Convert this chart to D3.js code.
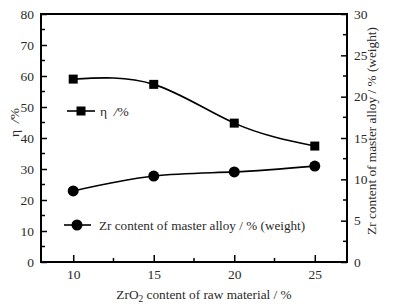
<!DOCTYPE html>
<html>
<head>
<meta charset="utf-8">
<script src="https://cdn.jsdelivr.net/npm/d3@7"></script>
<style>
  body { margin: 0; background: #fff; }
  text { font-family: "Liberation Serif", "DejaVu Serif", serif; fill: #2a2a2a; }
</style>
</head>
<body>
<div class="content"></div>
<script>
var width = 399, height = 306;
var margin = { left: 41, top: 14, right: 52, bottom: 44 };

var zrO2 = [10, 15, 20, 25];
var eta = [59.0, 57.3, 44.8, 37.4];
var zrContent = [8.6, 10.4, 10.9, 11.6];
var xTicks = [10, 15, 20, 25];
var leftTicks = [0, 10, 20, 30, 40, 50, 60, 70, 80];
var rightTicks = [0, 5, 10, 15, 20, 25, 30];

var x = d3.scaleLinear().domain([8, 27]).range([margin.left, width - margin.right]);
var yL = d3.scaleLinear().domain([0, 80]).range([height - margin.bottom, margin.top]);
var yR = d3.scaleLinear().domain([0, 30]).range([height - margin.bottom, margin.top]);

var svg = d3.select(".content").append("svg")
  .attr("width", width)
  .attr("height", height);

// frame
svg.append("rect")
  .attr("x", margin.left).attr("y", margin.top)
  .attr("width", width - margin.left - margin.right)
  .attr("height", height - margin.top - margin.bottom)
  .attr("fill", "none").attr("stroke", "#000").attr("stroke-width", 2);

// axes, ticks point inward
var xAxis = svg.append("g")
  .attr("transform", "translate(0," + (height - margin.bottom) + ")")
  .call(d3.axisBottom(x).tickValues(xTicks).tickSizeInner(-7).tickSizeOuter(0).tickPadding(7));
xAxis.append("g").selectAll("line").data([12.5, 17.5, 22.5]).enter().append("line")
  .attr("x1", x).attr("x2", x).attr("y1", 0).attr("y2", -4).attr("stroke", "#000").attr("stroke-width", 1.5);

var lAxis = svg.append("g")
  .attr("transform", "translate(" + margin.left + ",0)")
  .call(d3.axisLeft(yL).tickValues(leftTicks).tickSizeInner(-6).tickSizeOuter(0).tickPadding(7));
lAxis.append("g").selectAll("line").data([5, 15, 25, 35, 45, 55, 65, 75]).enter().append("line")
  .attr("y1", yL).attr("y2", yL).attr("x1", 0).attr("x2", 4).attr("stroke", "#000").attr("stroke-width", 1.5);

var rAxis = svg.append("g")
  .attr("transform", "translate(" + (width - margin.right) + ",0)")
  .call(d3.axisRight(yR).tickValues(rightTicks).tickSizeInner(-6).tickSizeOuter(0).tickPadding(7));
rAxis.append("g").selectAll("line").data([2.5, 7.5, 12.5, 17.5, 22.5, 27.5]).enter().append("line")
  .attr("y1", yR).attr("y2", yR).attr("x1", 0).attr("x2", -4).attr("stroke", "#000").attr("stroke-width", 1.5);

[xAxis, lAxis, rAxis].forEach(function (a) {
  a.select(".domain").remove();
  a.selectAll(".tick line").attr("stroke", "#000").attr("stroke-width", 1.5);
  a.selectAll(".tick text").style("font-size", "13.5px").attr("fill", "#2a2a2a");
});

// series
var etaLine = d3.line().x(function (d, i) { return x(zrO2[i]); }).y(function (d) { return yL(d); })
  .curve(d3.curveNatural);
var zrLine = d3.line().x(function (d, i) { return x(zrO2[i]); }).y(function (d) { return yR(d); })
  .curve(d3.curveNatural);

svg.append("path").attr("d", etaLine(eta))
  .attr("fill", "none").attr("stroke", "#000").attr("stroke-width", 1.6);
svg.append("path").attr("d", zrLine(zrContent))
  .attr("fill", "none").attr("stroke", "#000").attr("stroke-width", 1.6);

svg.selectAll(".sq").data(eta).enter().append("rect")
  .attr("class", "sq")
  .attr("x", function (d, i) { return x(zrO2[i]) - 4.5; })
  .attr("y", function (d) { return yL(d) - 4.5; })
  .attr("width", 9).attr("height", 9).attr("fill", "#000");

svg.selectAll(".dot").data(zrContent).enter().append("circle")
  .attr("class", "dot")
  .attr("cx", function (d, i) { return x(zrO2[i]); })
  .attr("cy", function (d) { return yR(d); })
  .attr("r", 5.5).attr("fill", "#000");

// legends
var lg1 = svg.append("g").attr("transform", "translate(67,111)");
lg1.append("line").attr("x1", 0).attr("x2", 28).attr("stroke", "#000").attr("stroke-width", 1.6);
lg1.append("rect").attr("x", 9.5).attr("y", -4.5).attr("width", 9).attr("height", 9).attr("fill", "#000");
lg1.append("text").attr("x", 33).attr("dy", "0.35em").style("font-size", "13.5px")
  .html('η&#160;&#160;<tspan font-style="italic">/</tspan>%');

var lg2 = svg.append("g").attr("transform", "translate(64,225)");
lg2.append("line").attr("x1", 0).attr("x2", 27).attr("stroke", "#000").attr("stroke-width", 1.6);
lg2.append("circle").attr("cx", 13).attr("r", 5.5).attr("fill", "#000");
lg2.append("text").attr("x", 35).attr("dy", "0.35em").style("font-size", "13.2px")
  .text("Zr content of master alloy / % (weight)");

// axis titles
svg.append("text")
  .attr("transform", "translate(19," + yL(45) + ") rotate(-90)")
  .attr("text-anchor", "middle").style("font-size", "13.5px")
  .html('η&#160;&#160;<tspan font-style="italic">/</tspan>%');

svg.append("text")
  .attr("transform", "translate(376,131) rotate(-90)")
  .attr("text-anchor", "middle").style("font-size", "13.3px")
  .text("Zr content of master alloy / % (weight)");

svg.append("text")
  .attr("x", 204)
  .attr("y", 299)
  .attr("text-anchor", "middle").style("font-size", "13.3px")
  .html('ZrO<tspan dy="3" font-size="9.5px">2</tspan><tspan dy="-3"> content of raw material / %</tspan>');
</script>
</body>
</html>
